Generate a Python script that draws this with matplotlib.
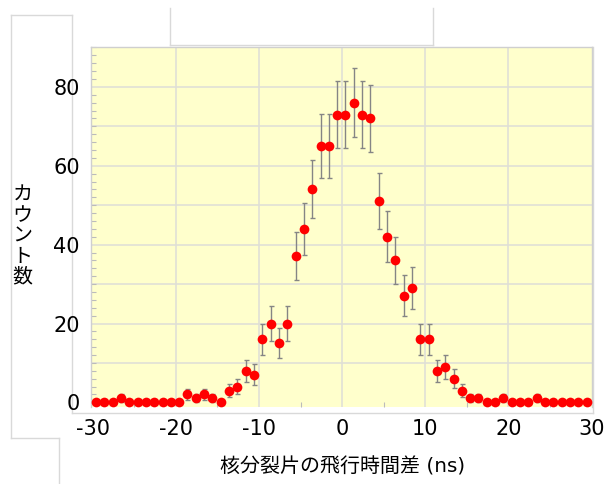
import matplotlib
matplotlib.use("Agg")
import matplotlib.pyplot as plt
from matplotlib.lines import Line2D
from matplotlib.ticker import MultipleLocator

# ---- data ----
time_diff = [-29.6, -28.6, -27.6, -26.6, -25.6, -24.6, -23.6, -22.6, -21.6, -20.6,
             -19.6, -18.6, -17.6, -16.6, -15.6, -14.6, -13.6, -12.6, -11.6, -10.6,
             -9.6, -8.6, -7.6, -6.6, -5.6, -4.6, -3.6, -2.6, -1.6, -0.6,
             0.4, 1.4, 2.4, 3.4, 4.4, 5.4, 6.4, 7.4, 8.4, 9.4,
             10.4, 11.4, 12.4, 13.4, 14.4, 15.4, 16.4, 17.4, 18.4, 19.4,
             20.4, 21.4, 22.4, 23.4, 24.4, 25.4, 26.4, 27.4, 28.4, 29.4]
counts = [0, 0, 0, 1, 0, 0, 0, 0, 0, 0,
          0, 2, 1, 2, 1, 0, 3, 4, 8, 7,
          16, 20, 15, 20, 37, 44, 54, 65, 65, 73,
          73, 76, 73, 72, 51, 42, 36, 27, 29, 16,
          16, 8, 9, 6, 3, 1, 1, 0, 0, 1,
          0, 0, 0, 1, 0, 0, 0, 0, 0, 0]
errors = [0, 0, 0, 1, 0, 0, 0, 0, 0, 0,
          0, 1.41, 1, 1.41, 1, 0, 1.73, 2, 2.83, 2.65,
          4, 4.47, 3.87, 4.47, 6.08, 6.63, 7.35, 8.06, 8.06, 8.54,
          8.54, 8.72, 8.54, 8.49, 7.14, 6.48, 6, 5.2, 5.39, 4,
          4, 2.83, 3, 2.45, 1.73, 1, 1, 0, 0, 1,
          0, 0, 0, 1, 0, 0, 0, 0, 0, 0]
x_ticks = [-30, -20, -10, 0, 10, 20, 30]
x_tick_labels = ["-30", "-20", "-10", "0", "10", "20", "30"]
y_ticks = [0, 20, 40, 60, 80]
y_tick_labels = ["0", "20", "40", "60", "80"]
xlabel_text = "核分裂片の飛行時間差 (ns)"
ylabel_text = "カウント数"

W, H = 609, 484
fig = plt.figure(figsize=(W / 100, H / 100), dpi=100)
fig.patch.set_facecolor("white")

def fx(px):
    return px / W

def fy(py):
    return 1 - py / H

GRAY = "#D9D9D9"

def seg(x0, y0, x1, y1, color=GRAY, lw=1.0):
    fig.add_artist(Line2D([fx(x0), fx(x1)], [fy(y0), fy(y1)], color=color,
                          lw=lw, transform=fig.transFigure, zorder=0))

# left box
seg(10.7, 15.3, 72.3, 15.3)
seg(10.7, 15.3, 10.7, 438)
seg(72.3, 15.3, 72.3, 413)
seg(10.7, 438, 59.3, 438)
seg(59.3, 438, 59.3, 484)
# top box
seg(169.5, 8, 169.5, 45)
seg(433.3, 8, 433.3, 45)
seg(169.5, 45, 433.3, 45)
# frame around plot
seg(72.3, 413, 592.5, 413)
seg(592.5, 46.5, 592.5, 413)

ax_left, ax_right = 91, 592
ax_top, ax_bottom = 46.7, 406.7
ax = fig.add_axes([fx(ax_left), fy(ax_bottom), (ax_right - ax_left) / W,
                   (ax_bottom - ax_top) / H])
ax.set_facecolor("#FFFFCC")

for gx in [-20, -10, 0, 10, 20]:
    ax.axvline(gx, color="#E0E0D6", lw=1.2, zorder=0)
for gy in [10, 20, 30, 40, 50, 60, 70, 80]:
    ax.axhline(gy, color="#E0E0D6", lw=1.2, zorder=0)

ax.errorbar(time_diff, counts, yerr=errors, fmt="none", ecolor="#858585",
            elinewidth=1.0, capsize=1.8, capthick=1.0, zorder=2)
ax.plot(time_diff, counts, "o", color="#FF0000", markersize=7.0,
        markeredgewidth=0, zorder=3)

ax.set_xlim(-30.2, 30.05)
ax.set_ylim(-1.1, 90.2)

ax.set_xticks(x_ticks)
ax.set_xticklabels(x_tick_labels)
ax.set_yticks(y_ticks)
ax.set_yticklabels(y_tick_labels)
ax.xaxis.set_minor_locator(MultipleLocator(5))
ax.yaxis.set_minor_locator(MultipleLocator(2))
ax.tick_params(axis="both", which="major", length=0, labelsize=15, pad=8,
               labelcolor="black")
ax.tick_params(axis="x", which="major", pad=8.5)
ax.tick_params(axis="both", which="minor", direction="in", length=3.5,
               width=0.8, color="#BBBBBB")
ax.tick_params(axis="x", which="minor", top=False)
ax.tick_params(axis="y", which="minor", right=False)

for side in ["top", "right", "left"]:
    ax.spines[side].set_color("#CFCFCF")
    ax.spines[side].set_linewidth(1.0)
ax.spines["bottom"].set_visible(False)

fig.text(fx(342.5), fy(467), xlabel_text, ha="center", va="center",
         fontsize=14.4, family=["DejaVu Sans", "Noto Sans CJK JP"])

y_centers = [195, 215.5, 236, 256.5, 277]
for ch, yc in zip(ylabel_text, y_centers):
    fig.text(fx(22.5), fy(yc), ch, ha="center", va="center", fontsize=14.4,
             family=["Noto Sans CJK JP", "DejaVu Sans"])

fig.savefig("out.png", dpi=100, facecolor="white")
